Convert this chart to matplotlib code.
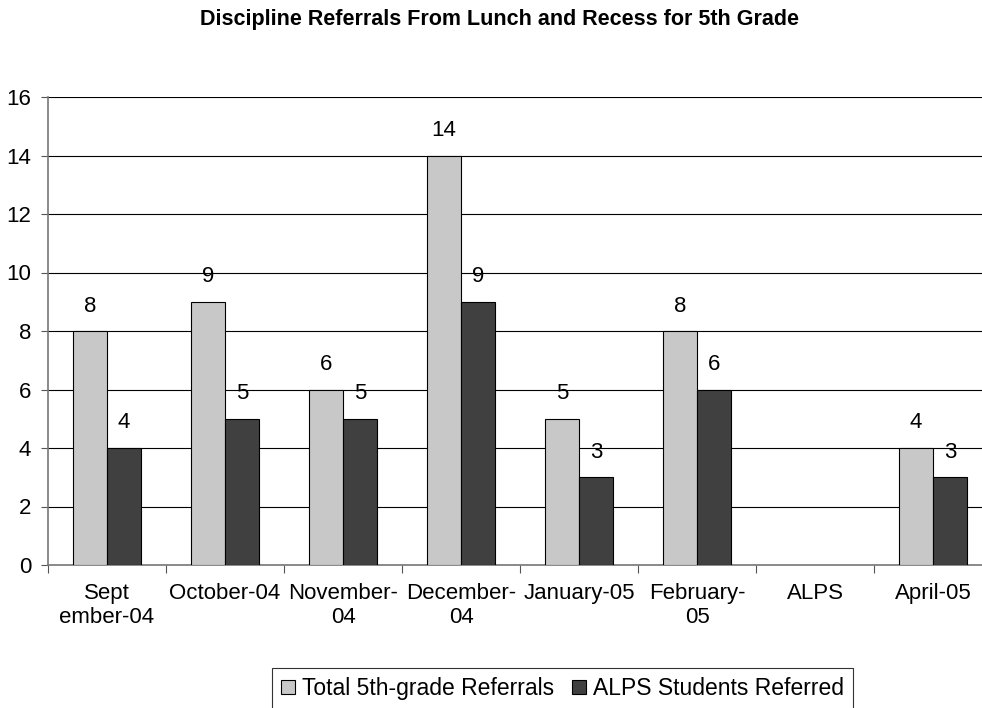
import matplotlib.pyplot as plt
import numpy as np

plt.rcParams['font.family'] = ['Liberation Sans', 'DejaVu Sans']

months = ["Sept\nember-04", "October-04", "November-\n04", "December-\n04",
          "January-05", "February-\n05", "ALPS", "April-05"]
total = [8, 9, 6, 14, 5, 8, np.nan, 4]
alps = [4, 5, 5, 9, 3, 6, np.nan, 3]

fig = plt.figure(figsize=[9.82, 7.08], dpi=100)
# plot area in pixels: left 48, right ~992 (runs off the image), top 97, bottom 565
ax = fig.add_axes([48/982, (708-565)/708, (992-48)/982, (565-97)/708])

x = np.arange(len(months))
w = 0.29
b1 = ax.bar(x - w/2, total, w, color="#c8c8c8", edgecolor="black", linewidth=0.8,
            label="Total 5th-grade Referrals", zorder=3)
b2 = ax.bar(x + w/2, alps, w, color="#404040", edgecolor="black", linewidth=0.8,
            label="ALPS Students Referred", zorder=3)

for bars, vals in [(b1, total), (b2, alps)]:
    for rect, v in zip(bars, vals):
        if np.isnan(v):
            continue
        ax.annotate(str(int(v)), (rect.get_x() + rect.get_width()/2, v),
                    xytext=(0, 18), textcoords="offset points",
                    ha="center", va="center", fontsize=16)

ax.set_ylim(0, 16)
ax.set_yticks(range(0, 17, 2))
ax.set_xlim(-0.5, len(months) - 0.5)
ax.set_xticks(np.arange(len(months) + 1) - 0.5)
ax.set_xticklabels([])
ax.set_xticks(x, minor=True)
ax.set_xticklabels(months, minor=True, fontsize=16, linespacing=1.2)
ax.tick_params(axis="x", which="minor", length=0, pad=13)
ax.tick_params(axis="x", which="major", length=6, direction="out", color="#555555")
ax.tick_params(axis="y", labelsize=16, length=5, color="#555555", pad=7)

ax.yaxis.grid(True, color="black", linewidth=0.8, zorder=0)
ax.set_axisbelow(True)
for s in ["top", "right"]:
    ax.spines[s].set_visible(False)
ax.spines["left"].set_color("#777777")
ax.spines["bottom"].set_color("#777777")
ax.spines["left"].set_linewidth(1.2)
ax.spines["bottom"].set_linewidth(1.2)

fig.text(499/982, 1 - 20/708, "Discipline Referrals From Lunch and Recess for 5th Grade",
         ha="center", va="center", fontsize=15.5, fontweight="bold")

leg = fig.legend(loc="upper right", bbox_to_anchor=(853/982, 1 - 668/708), ncol=2,
                 fontsize=16.5, frameon=True, fancybox=False, edgecolor="black",
                 handlelength=0.6, handleheight=0.6, handletextpad=0.3,
                 columnspacing=0.8, borderpad=0.4, borderaxespad=0)
leg.get_frame().set_linewidth(0.8)

plt.savefig("out.png", dpi=100)
